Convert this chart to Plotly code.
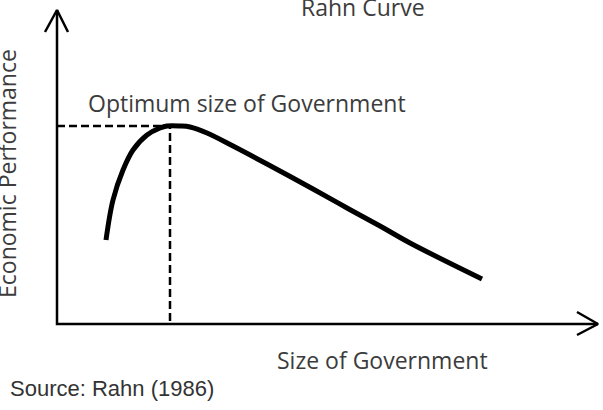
import plotly.graph_objects as go

# Conceptual Rahn curve (axis units: origin at the axes corner)
size_gov = [49, 56, 66, 76, 90, 103, 110, 123, 133, 150, 176, 210, 256, 290, 323, 353, 425]
econ_perf = [84, 124, 154, 174, 189, 196, 198, 198, 197, 191, 178, 160, 135, 116, 98, 81, 45]

optimum_size = 113
optimum_perf = 198

x_axis_end = 541
y_axis_end = 314

title_text = "Rahn Curve"
x_label = "Size of Government"
y_label = "Economic Performance"
optimum_label = "Optimum size of Government"
source_text = "Source: Rahn (1986)"

fig = go.Figure()

# axes
fig.add_trace(go.Scatter(x=[0, 0, x_axis_end], y=[y_axis_end, 0, 0], mode="lines",
                         line=dict(color="black", width=2.5), hoverinfo="skip"))
# arrowheads
fig.add_trace(go.Scatter(x=[-12, 0, 11], y=[y_axis_end - 22, y_axis_end, y_axis_end - 22], mode="lines",
                         line=dict(color="black", width=2.5), hoverinfo="skip"))
fig.add_trace(go.Scatter(x=[x_axis_end - 21, x_axis_end, x_axis_end - 21], y=[12, 0, -11], mode="lines",
                         line=dict(color="black", width=2.5), hoverinfo="skip"))

# dashed guides
fig.add_trace(go.Scatter(x=[0, optimum_size, optimum_size], y=[optimum_perf, optimum_perf, 0], mode="lines",
                         line=dict(color="black", width=2.5, dash="8px,4px"), hoverinfo="skip"))

# curve
fig.add_trace(go.Scatter(x=size_gov, y=econ_perf, mode="lines",
                         line=dict(color="black", width=5, shape="spline", smoothing=1.0),
                         hoverinfo="skip"))

txt_font = dict(family="Open Sans", size=23, color="#3c3c3c")
fig.add_annotation(x=306, y=317, text=title_text, showarrow=False, font=txt_font,
                   xanchor="center", yanchor="middle")
fig.add_annotation(x=190, y=221, text=optimum_label, showarrow=False, font=txt_font,
                   xanchor="center", yanchor="middle")
fig.add_annotation(x=325, y=-36, text=x_label, showarrow=False, font=txt_font,
                   xanchor="center", yanchor="middle")
fig.add_annotation(x=-50, y=150, text=y_label, showarrow=False, font=txt_font, textangle=-90,
                   xanchor="center", yanchor="middle")
fig.add_annotation(x=-49, y=-64, text=source_text, showarrow=False,
                   font=dict(family="Liberation Sans, Arial", size=22, color="#333333"),
                   xanchor="left", yanchor="middle")

fig.update_layout(
    width=603, height=410,
    margin=dict(l=0, r=0, t=0, b=0),
    paper_bgcolor="white", plot_bgcolor="white",
    showlegend=False,
    xaxis=dict(range=[-57, 546], visible=False, fixedrange=True),
    yaxis=dict(range=[-86, 324], visible=False, fixedrange=True),
)

fig.write_html("out.html")
